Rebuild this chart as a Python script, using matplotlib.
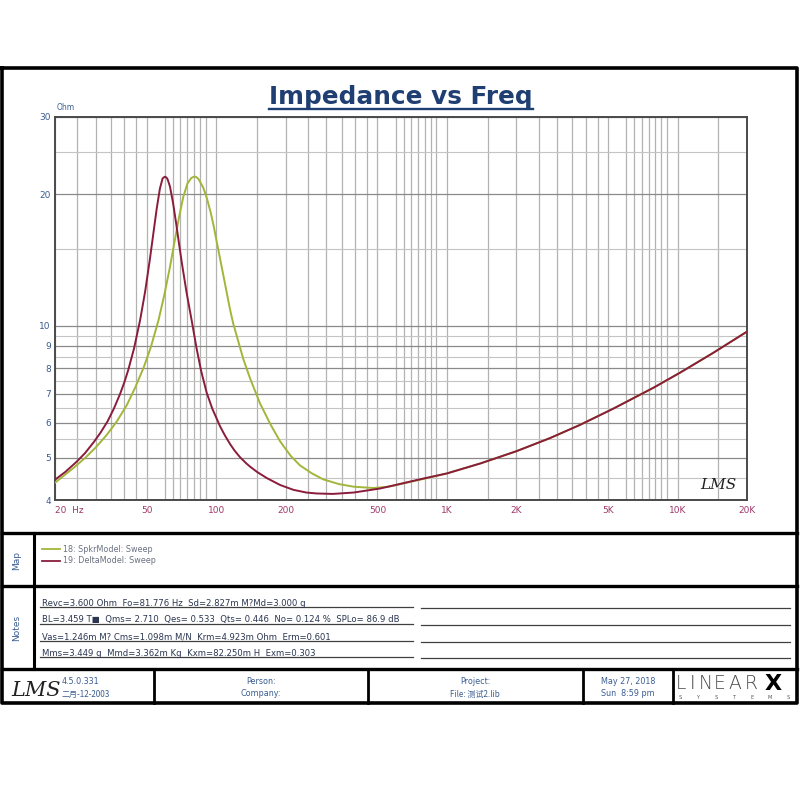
import matplotlib
matplotlib.use('Agg')
import matplotlib.pyplot as plt
from matplotlib.ticker import NullFormatter

plt.rcParams['font.family'] = ['DejaVu Sans', 'Noto Sans CJK SC']

# impedance curves (Hz, Ohm)
spkr_f = [20, 22, 24, 27, 30, 33.5, 37, 40.9, 44.5, 48.5, 52, 56.2, 59.5, 63, 66, 69, 72, 75,
          78, 79.5, 81, 82.5, 84, 87.8, 91, 94.5, 97.5, 100.4, 107.2, 111, 114.8, 118.5, 122.6,
          131, 140, 154.8, 172, 189, 210, 230.6, 260, 290.6, 340, 394, 480, 560, 764,
          1000, 1400, 2000, 2800, 3780, 5240, 7860, 10270, 14200, 20000]
spkr_z = [4.38, 4.56, 4.73, 4.99, 5.27, 5.63, 6.04, 6.58, 7.22, 8.04, 8.92, 10.3, 11.74, 13.62,
          15.59, 17.73, 19.72, 21.14, 21.77, 21.88, 21.93, 21.82, 21.6, 20.7, 19.6, 18.2, 16.9,
          15.6, 13.1, 11.92, 10.9, 10.12, 9.5, 8.4, 7.6, 6.65, 5.95, 5.45, 5.05, 4.8, 4.6,
          4.46, 4.35, 4.29, 4.26, 4.29, 4.45,
          4.6, 4.85, 5.17, 5.54, 5.94, 6.46, 7.22, 7.82, 8.66, 9.7]
delta_f = [20, 22.2, 24.8, 27, 29.5, 31.5, 33.8, 36, 38.3, 40, 41.5, 44, 46.8, 49.2, 51.6,
           53.5, 55.2, 57, 58.5, 59.2, 60, 60.8, 61.5, 63, 65, 67, 69, 71, 74.4, 78.3, 82.2,
           86, 90.8, 96, 103.8, 109, 114.8, 120, 126.8, 135, 140, 150, 165.6, 189, 216, 246,
           272, 320, 394, 514, 600, 764,
           1000, 1400, 2000, 2800, 3780, 5240, 7860, 10270, 14200, 20000]
delta_z = [4.45, 4.64, 4.89, 5.12, 5.43, 5.70, 6.05, 6.47, 6.99, 7.44, 7.91, 8.87, 10.32, 11.99,
           14.23, 16.39, 18.52, 20.59, 21.69, 21.83, 21.91, 21.82, 21.64, 20.82, 19.08, 17.16,
           15.39, 13.89, 11.9, 10.27, 8.88, 7.89, 7.05, 6.48, 5.90, 5.62, 5.37, 5.19, 5.01,
           4.85, 4.77, 4.64, 4.49, 4.33, 4.22, 4.16, 4.14, 4.13, 4.16, 4.25, 4.33, 4.46,
           4.6, 4.85, 5.17, 5.54, 5.94, 6.46, 7.22, 7.82, 8.66, 9.7]

x_ticks = [20, 50, 100, 200, 500, 1000, 2000, 5000, 10000, 20000]
x_labels = ['20  Hz', '50', '100', '200', '500', '1K', '2K', '5K', '10K', '20K']
y_ticks = [4, 5, 6, 7, 8, 9, 10, 20, 30]
y_labels = ['4', '5', '6', '7', '8', '9', '10', '20', '30']
y_minor = [4.5, 5.5, 6.5, 7.5, 8.5, 9.5, 15, 25]
grid_mult = [1, 1.5, 2, 2.5, 3, 3.5, 4, 4.5, 5, 6, 6.5, 7, 7.5, 8, 8.5, 9]

legend_names = ['18: SpkrModel: Sweep', '19: DeltaModel: Sweep']
notes = ['Revc=3.600 Ohm  Fo=81.776 Hz  Sd=2.827m M?Md=3.000 g',
         'BL=3.459 T\u25a0  Qms= 2.710  Qes= 0.533  Qts= 0.446  No= 0.124 %  SPLo= 86.9 dB',
         'Vas=1.246m M? Cms=1.098m M/N  Krm=4.923m Ohm  Erm=0.601',
         'Mms=3.449 g  Mmd=3.362m Kg  Kxm=82.250m H  Exm=0.303']

GREEN = '#a3b53a'
RED = '#8a1c3c'
NAVY = '#1f3f73'
BLUE = '#3a5d92'

fig = plt.figure(figsize=(8, 8), dpi=100)

# page frame, drawn in pixel units
bg = fig.add_axes([0, 0, 1, 1], zorder=0)
bg.set_xlim(0, 800); bg.set_ylim(800, 0); bg.axis('off')
K = 'black'
bg.plot([2, 797, 797, 2, 2], [68, 68, 703, 703, 68], color=K, lw=2.6)
for yy in (533, 586, 669):
    bg.plot([2, 797], [yy, yy], color=K, lw=2.4)
bg.plot([34, 34], [533, 669], color=K, lw=2.2)
for xx in (154, 368, 583, 673):
    bg.plot([xx, xx], [669, 703], color=K, lw=2.0)

# title
t = bg.text(401, 104, 'Impedance vs Freq', fontsize=17.8, fontweight='bold', color=NAVY,
            ha='center', va='baseline')
fig.canvas.draw()
bb = t.get_window_extent()
bg.plot([bb.x0, bb.x1], [108.5, 108.5], color=NAVY, lw=1.7)

# side labels
bg.text(17, 560, 'Map', rotation=90, ha='center', va='center', fontsize=6.5, color=BLUE)
bg.text(17, 628, 'Notes', rotation=90, ha='center', va='center', fontsize=6.5, color=BLUE)

# legend in Map box
for i, (name, col) in enumerate(zip(legend_names, [GREEN, RED])):
    yy = 549 + i * 11.5
    bg.plot([42, 60], [yy, yy], color=col, lw=1.3)
    bg.text(63, yy, name, fontsize=5.8, color='#6a7180', va='center')

# notes with underlines
for i, line in enumerate(notes):
    yy = 607 + i * 16.8
    bg.text(42, yy - 1.5, line, fontsize=6.1, color='#2a3550', va='baseline')
    bg.plot([40, 413], [yy, yy], color='#404040', lw=0.9)
    bg.plot([421, 790], [yy + 1, yy + 1], color='#404040', lw=0.9)

# footer
bg.text(11, 696, 'LMS', fontsize=15, style='italic', family='DejaVu Serif', color='#222222')
bg.text(62, 681, '4.5.0.331', fontsize=5.8, color=BLUE, va='center')
bg.text(62, 694, '二月-12-2003', fontsize=5.8, color=BLUE, va='center',
        family=['Noto Sans CJK SC', 'DejaVu Sans'])
bg.text(261, 681, 'Person:', fontsize=5.8, color=BLUE, ha='center', va='center')
bg.text(261, 694, 'Company:', fontsize=5.8, color=BLUE, ha='center', va='center')
bg.text(475, 681, 'Project:', fontsize=5.8, color=BLUE, ha='center', va='center')
bg.text(475, 694, 'File: 测试2.lib', fontsize=5.8, color=BLUE, ha='center', va='center',
        family=['Noto Sans CJK SC', 'DejaVu Sans'])
bg.text(628, 681, 'May 27, 2018', fontsize=5.8, color=BLUE, ha='center', va='center')
bg.text(628, 694, 'Sun  8:59 pm', fontsize=5.8, color=BLUE, ha='center', va='center')
for ch, xc in zip('LINEAR', [681, 693, 706, 720, 735, 751]):
    bg.text(xc, 689, ch, fontsize=13.5, color='#4a4a4a', ha='center', va='baseline',
            family='DejaVu Sans', fontweight='ultralight')
bg.text(773, 689.5, 'X', fontsize=16, color='black', fontweight='bold', ha='center',
        va='baseline')
for ch, xc in zip('SYSTEMS', [680, 698, 716, 734, 752, 770, 788]):
    bg.text(xc, 699, ch, fontsize=3.6, color='#555555', ha='center', va='baseline')

# chart
ax = fig.add_axes([55 / 800, 1 - 500 / 800, 692 / 800, 383 / 800], zorder=2)
ax.set_xscale('log'); ax.set_yscale('log')
ax.set_xlim(20, 20000); ax.set_ylim(4, 30)

x_minor = []
for dec in (10, 100, 1000, 10000):
    for m in grid_mult:
        v = m * dec
        if 20 <= v <= 20000 and v not in x_ticks:
            x_minor.append(v)
ax.set_xticks(x_ticks)
ax.set_xticklabels(x_labels)
ax.set_xticks(x_minor, minor=True)
ax.set_yticks(y_ticks)
ax.set_yticklabels(y_labels)
ax.set_yticks(y_minor, minor=True)
ax.xaxis.set_minor_formatter(NullFormatter())
ax.yaxis.set_minor_formatter(NullFormatter())
ax.grid(which='both', axis='x', color='#b2b2b2', lw=0.9)
ax.grid(which='major', axis='y', color='#8a8a8a', lw=0.9)
ax.grid(which='minor', axis='y', color='#c4c4c4', lw=0.8)
ax.set_axisbelow(True)
ax.tick_params(which='both', length=0)
ax.tick_params(axis='x', labelsize=6.5, labelcolor='#a0386a', pad=4)
ax.tick_params(axis='y', labelsize=6.5, labelcolor=BLUE, pad=3)
lab0 = ax.get_xticklabels()[0]
lab0.set_horizontalalignment('left')
for s in ax.spines.values():
    s.set_color('#4a4a4a'); s.set_linewidth(1.4)

ax.plot(spkr_f, spkr_z, color=GREEN, lw=1.4, zorder=3, solid_joinstyle='round')
ax.plot(delta_f, delta_z, color=RED, lw=1.4, zorder=4, solid_joinstyle='round')
ax.text(0.985, 0.02, 'LMS', transform=ax.transAxes, fontsize=11, style='italic',
        family='DejaVu Serif', color='#222222', ha='right', va='bottom')
bg.text(57, 110, 'Ohm', fontsize=5.5, color=BLUE, va='baseline')

fig.savefig('out.png', dpi=100)
